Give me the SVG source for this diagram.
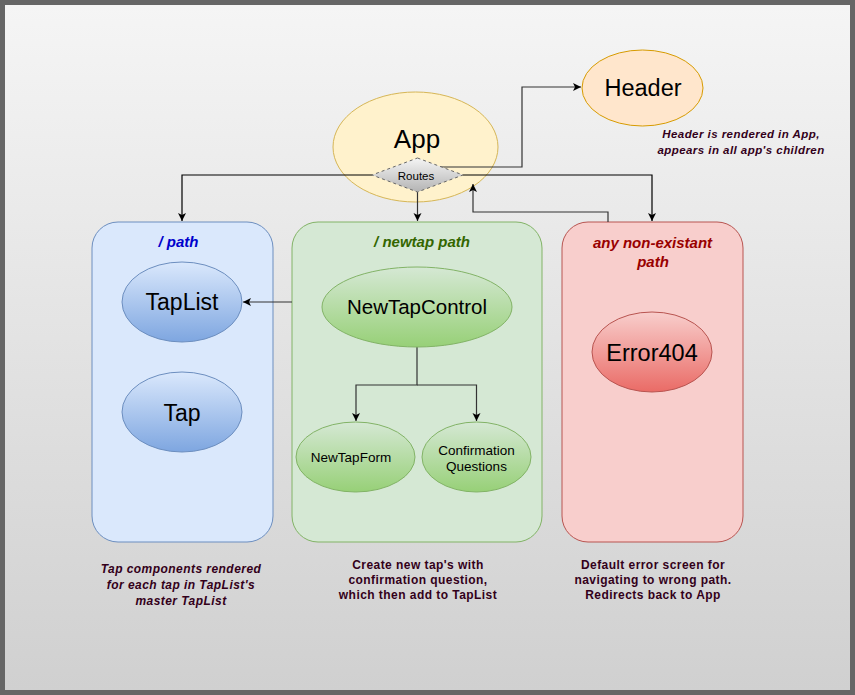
<svg xmlns="http://www.w3.org/2000/svg" width="855" height="695" viewBox="0 0 855 695">
<defs>
<linearGradient id="bg" x1="0" y1="0" x2="0" y2="1"><stop offset="0" stop-color="#f5f5f5"/><stop offset="1" stop-color="#d0d0d0"/></linearGradient>
<linearGradient id="gBlue" x1="0" y1="0" x2="0" y2="1"><stop offset="0" stop-color="#dae8fc"/><stop offset="1" stop-color="#7ea6e0"/></linearGradient>
<linearGradient id="gGreen" x1="0" y1="0" x2="0" y2="1"><stop offset="0" stop-color="#d5e8d4"/><stop offset="1" stop-color="#97d077"/></linearGradient>
<linearGradient id="gRed" x1="0" y1="0" x2="0" y2="1"><stop offset="0" stop-color="#f8cecc"/><stop offset="1" stop-color="#ea6b66"/></linearGradient>
<linearGradient id="gGrey" x1="0" y1="0" x2="0" y2="1"><stop offset="0" stop-color="#f5f5f5"/><stop offset="1" stop-color="#b3b3b3"/></linearGradient>
<marker id="arr" markerUnits="userSpaceOnUse" markerWidth="10" markerHeight="10" refX="8" refY="4" orient="auto">
<path d="M0,0 L8,4 L0,8 L2,4 z" fill="#000"/>
</marker>
</defs>
<style>
text{font-family:"Liberation Sans",Arial,sans-serif;fill:#000}
.mid{text-anchor:middle}
.title{font-size:15px;font-weight:bold;font-style:italic;text-anchor:middle}
.note{font-size:12px;font-weight:bold;fill:#33001a;text-anchor:middle;letter-spacing:0.45px}
.it{font-style:italic}
.small{font-size:11.5px}
.conn path{fill:none;stroke:#333;stroke-width:1.2}
</style>
<rect x="0" y="0" width="855" height="695" fill="#666"/>
<rect x="5" y="5" width="845" height="685" fill="url(#bg)"/>

<g id="box-path">
<rect x="92" y="222" width="181" height="320" rx="26" fill="#dae8fc" stroke="#6c8ebf"/>
<text class="title" x="178.5" y="247" style="fill:#0000cc">/ path</text>
</g>
<g id="box-newtap">
<rect x="292" y="222" width="250" height="320" rx="26" fill="#d5e8d4" stroke="#82b366"/>
<text class="title" x="422" y="247" style="fill:#336600">/ newtap path</text>
</g>
<g id="box-error">
<rect x="562" y="222" width="181" height="320" rx="26" fill="#f8cecc" stroke="#b85450"/>
<text class="title" x="652.5" y="248" style="fill:#990000">any non-existant</text>
<text class="title" x="653" y="267" style="fill:#990000">path</text>
</g>

<g id="app">
<ellipse cx="415.5" cy="147" rx="82.5" ry="55" fill="#fff2cc" stroke="#d6b656"/>
<text class="mid" x="417" y="148" font-size="26">App</text>
</g>
<g id="header">
<ellipse cx="642.5" cy="88" rx="60.5" ry="38" fill="#ffe6cc" stroke="#d79b00"/>
<text class="mid" x="643" y="96" font-size="23.5">Header</text>
</g>

<g class="conn" id="connectors">
<path d="M440,167 H522 V87 H581" marker-end="url(#arr)"/>
<path d="M372,175 H182 V221" style="stroke:#000" marker-end="url(#arr)"/>
<path d="M463,175 H652 V221" style="stroke:#000" marker-end="url(#arr)"/>
<path d="M417.5,192 V221" marker-end="url(#arr)"/>
<path d="M608,222 V212 H473 V184" marker-end="url(#arr)"/>
<path d="M292,302 H243" marker-end="url(#arr)"/>
<path d="M417,347 V385 H356 V421" marker-end="url(#arr)"/>
<path d="M417,385 H476.5 V421" marker-end="url(#arr)"/>
</g>

<g id="routes">
<path d="M417.5,158 L463,175 L417.5,192 L372,175 z" fill="url(#gGrey)" stroke="#666" stroke-dasharray="3,3"/>
<text class="mid" x="416" y="179.5" font-size="11.5">Routes</text>
</g>

<g id="taplist">
<ellipse cx="182" cy="302" rx="60" ry="40" fill="url(#gBlue)" stroke="#6c8ebf"/>
<text class="mid" x="182" y="310" font-size="23">TapList</text>
</g>
<g id="tap">
<ellipse cx="182" cy="412" rx="60" ry="40" fill="url(#gBlue)" stroke="#6c8ebf"/>
<text class="mid" x="182" y="420.5" font-size="23">Tap</text>
</g>
<g id="newtapcontrol">
<ellipse cx="417" cy="307" rx="95" ry="40" fill="url(#gGreen)" stroke="#82b366"/>
<text class="mid" x="417" y="314" font-size="20.5">NewTapControl</text>
</g>
<g id="newtapform">
<ellipse cx="355.5" cy="457" rx="59.5" ry="35" fill="url(#gGreen)" stroke="#82b366"/>
<text class="mid" x="351" y="462" font-size="13.5">NewTapForm</text>
</g>
<g id="confirmation">
<ellipse cx="476.5" cy="457" rx="54.5" ry="35" fill="url(#gGreen)" stroke="#82b366"/>
<text class="mid" x="476.5" y="454.5" font-size="13.5">Confirmation</text>
<text class="mid" x="476.5" y="470.5" font-size="13.5">Questions</text>
</g>
<g id="error404">
<ellipse cx="652" cy="352" rx="60" ry="40" fill="url(#gRed)" stroke="#b85450"/>
<text class="mid" x="652" y="360.5" font-size="23.5">Error404</text>
</g>

<g id="notes">
<text class="note it small" x="741" y="138">Header is rendered in App,</text>
<text class="note it small" x="741" y="154">appears in all app's children</text>
<text class="note it" x="181" y="573">Tap components rendered</text>
<text class="note it" x="181" y="589">for each tap in TapList's</text>
<text class="note it" x="181" y="605">master TapList</text>
<text class="note" x="418" y="568.5">Create new tap's with</text>
<text class="note" x="418" y="583.5">confirmation question,</text>
<text class="note" x="418" y="598.5">which then add to TapList</text>
<text class="note" x="653" y="568.5">Default error screen for</text>
<text class="note" x="653" y="583.5">navigating to wrong path.</text>
<text class="note" x="653" y="598.5">Redirects back to App</text>
</g>
</svg>
